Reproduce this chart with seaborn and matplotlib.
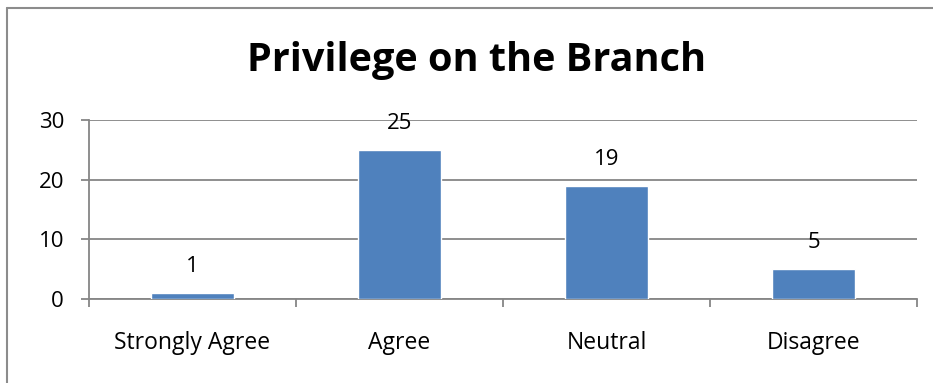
import matplotlib
matplotlib.use("Agg")
import matplotlib.pyplot as plt
import seaborn as sns
import pandas as pd
from matplotlib.lines import Line2D

categories = ["Strongly Agree", "Agree", "Neutral", "Disagree"]
values = [1, 25, 19, 5]
yticks = [0, 10, 20, 30]
title = "Privilege on the Branch"

sns.set_theme(style="white")
plt.rcParams['font.family'] = ['Open Sans', 'DejaVu Sans']
plt.rcParams['text.color'] = 'black'

W, H = 933, 383
fig = plt.figure(figsize=(W / 100, H / 100), dpi=100)
ax = fig.add_axes([89 / W, (H - 299) / H, (917 - 89) / W, (299 - 120) / H])

df = pd.DataFrame({"cat": categories, "val": values})
sns.barplot(data=df, x="cat", y="val", color="#4F81BD", saturation=1, width=0.4, ax=ax, zorder=3)

grid = "#868686"
ax.set_xlim(-0.5, len(categories) - 0.5)
ax.set_ylim(0, 30)
ax.set_yticks(yticks)
ax.yaxis.grid(True, color=grid, lw=1.3, zorder=0)
ax.set_axisbelow(True)
for s in ["top", "right"]:
    ax.spines[s].set_visible(False)
for s in ["left", "bottom"]:
    ax.spines[s].set_color(grid)
    ax.spines[s].set_linewidth(1.3)
ax.tick_params(axis="y", which="major", direction="out", length=6, width=1.3, color=grid,
               labelsize=16, pad=12, left=True, labelcolor="black")
ax.set_xticks(range(len(categories)))
ax.set_xticks([i - 0.5 for i in range(len(categories) + 1)], minor=True)
ax.tick_params(axis="x", which="major", length=0, labelsize=16.5, pad=23, labelcolor="black")
ax.tick_params(axis="x", which="minor", direction="out", length=6, width=1.3, color=grid, bottom=True)
ax.set_xlabel("")
ax.set_ylabel("")

for i, v in enumerate(values):
    ax.annotate(str(v), (i, v), xytext=(0, 19), textcoords="offset points",
                ha="center", va="center", fontsize=16, color="black")

fig.text(477 / W, 1 - 60 / H, title, ha="center", va="center", fontsize=28.5, fontweight="bold", color="black")

fig.add_artist(Line2D([7 / W, 1], [1 - 8 / H, 1 - 8 / H], color="#8C8C8C", lw=1.5, transform=fig.transFigure))
fig.add_artist(Line2D([7 / W, 7 / W], [0, 1 - 8 / H], color="#8C8C8C", lw=1.5, transform=fig.transFigure))

fig.savefig("out.png", dpi=100)
